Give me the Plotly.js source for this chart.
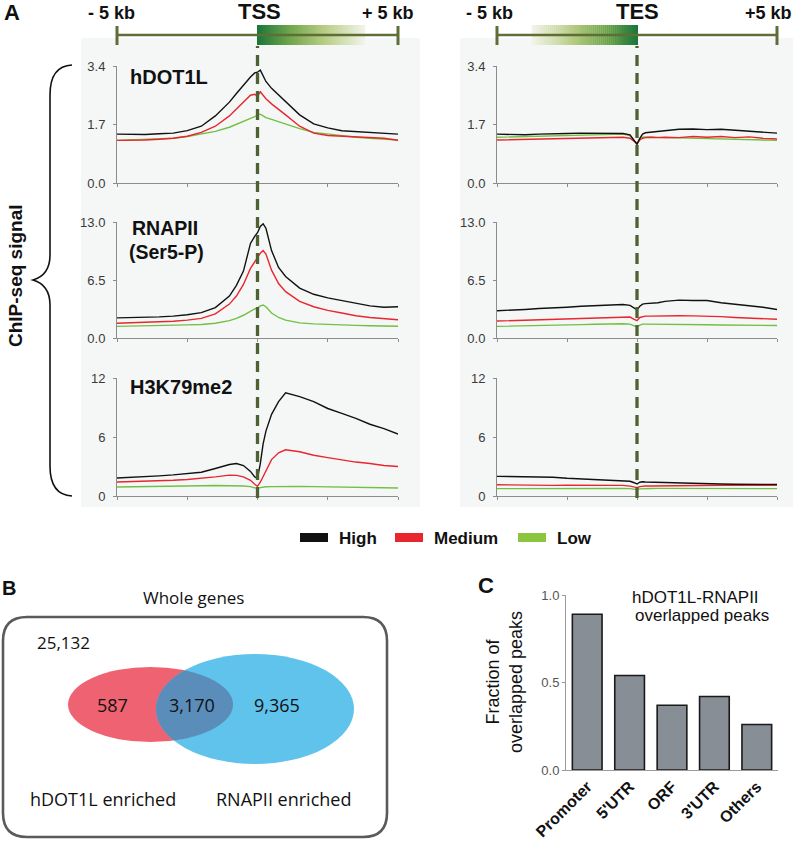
<!DOCTYPE html>
<html>
<head>
<meta charset="utf-8">
<script src="https://cdn.plot.ly/plotly-3.0.1.min.js"></script>
<style>
body { margin: 0; background: #fff; }
#chart { width: 805px; height: 845px; }
</style>
</head>
<body>
<div id="chart"></div>
<script>
// distance from TSS / TES in kb
var pos = [-5,-4.5,-4,-3.5,-3,-2.5,-2,-1.5,-1,-0.75,-0.5,-0.25,-0.1,0,0.1,0.2,0.3,0.5,0.75,1,1.5,2,2.5,3,3.5,4,4.5,5];

var seriesNames = ['High', 'Medium', 'Low'];
var seriesColors = ['#111111', '#e8262d', '#72c043'];

// hDOT1L
var dot1lTssHigh = [1.42,1.41,1.41,1.43,1.45,1.52,1.65,1.95,2.35,2.6,2.85,3.08,3.2,3.22,3.28,3.1,2.95,2.75,2.55,2.38,1.98,1.72,1.6,1.52,1.5,1.47,1.45,1.42];
var dot1lTssMed  = [1.24,1.24,1.25,1.27,1.3,1.36,1.47,1.65,1.95,2.15,2.35,2.55,2.58,2.52,2.65,2.55,2.45,2.3,2.15,1.98,1.65,1.45,1.38,1.36,1.34,1.32,1.3,1.24];
var dot1lTssLow  = [1.24,1.25,1.27,1.28,1.3,1.35,1.42,1.5,1.62,1.7,1.78,1.88,1.93,1.97,2.0,1.95,1.9,1.85,1.78,1.72,1.58,1.47,1.42,1.38,1.33,1.3,1.28,1.25];
var dot1lTesHigh = [1.42,1.4,1.4,1.42,1.44,1.44,1.45,1.45,1.46,1.45,1.44,1.4,1.25,1.13,1.3,1.42,1.46,1.48,1.5,1.52,1.56,1.57,1.55,1.56,1.53,1.5,1.48,1.45];
var dot1lTesMed  = [1.25,1.26,1.27,1.28,1.3,1.3,1.31,1.32,1.33,1.33,1.33,1.3,1.2,1.15,1.25,1.3,1.32,1.33,1.32,1.33,1.32,1.35,1.33,1.35,1.32,1.34,1.3,1.28];
var dot1lTesLow  = [1.33,1.34,1.35,1.36,1.37,1.38,1.4,1.41,1.42,1.42,1.42,1.38,1.22,1.12,1.28,1.33,1.34,1.34,1.33,1.32,1.31,1.3,1.3,1.28,1.28,1.27,1.26,1.24];

// RNAPII (Ser5-P)
var polTssHigh = [2.25,2.27,2.3,2.37,2.45,2.6,2.85,3.4,4.7,5.9,7.5,10.6,11.4,11.8,12.5,12.8,12.3,9.8,7.9,6.9,5.6,4.9,4.5,4.2,3.9,3.6,3.45,3.5];
var polTssMed  = [1.65,1.7,1.75,1.8,1.88,2.0,2.2,2.7,3.8,4.7,6.0,7.8,8.5,8.9,9.5,9.8,9.4,7.6,6.1,5.2,4.1,3.5,3.1,2.8,2.5,2.3,2.15,2.05];
var polTssLow  = [1.3,1.32,1.35,1.38,1.42,1.47,1.52,1.65,1.95,2.2,2.55,3.0,3.25,3.35,3.6,3.7,3.5,2.8,2.3,2.0,1.7,1.58,1.5,1.45,1.42,1.38,1.35,1.32];
var polTesHigh = [3.05,3.1,3.2,3.3,3.35,3.45,3.55,3.6,3.7,3.72,3.75,3.65,3.35,3.15,3.55,3.8,3.85,3.9,3.95,4.1,4.25,4.2,4.2,3.95,3.8,3.6,3.45,3.2];
var polTesMed  = [1.9,1.95,2.0,2.05,2.1,2.15,2.2,2.25,2.3,2.35,2.38,2.35,2.1,1.95,2.3,2.42,2.45,2.45,2.48,2.5,2.5,2.48,2.45,2.4,2.3,2.25,2.2,2.1];
var polTesLow  = [1.3,1.32,1.35,1.38,1.42,1.46,1.5,1.54,1.58,1.6,1.6,1.55,1.4,1.25,1.45,1.55,1.55,1.55,1.54,1.52,1.5,1.48,1.48,1.46,1.45,1.43,1.42,1.4];

// H3K79me2
var k79TssHigh = [1.83,1.88,1.95,2.05,2.15,2.3,2.42,2.8,3.2,3.3,3.1,2.5,1.95,1.8,3.3,5.3,6.6,8.3,9.6,10.5,10.1,9.6,8.9,8.4,7.9,7.3,6.85,6.3];
var k79TssMed  = [1.42,1.45,1.5,1.55,1.6,1.68,1.78,1.95,2.12,2.1,1.95,1.6,1.2,0.98,1.4,2.0,2.6,3.7,4.4,4.7,4.5,4.15,3.9,3.65,3.45,3.3,3.1,3.0];
var k79TssLow  = [0.92,0.93,0.95,0.97,1.0,1.02,1.05,1.07,1.08,1.06,1.02,0.95,0.82,0.75,0.85,0.92,0.94,0.95,0.97,0.98,0.97,0.95,0.93,0.9,0.88,0.86,0.84,0.82];
var k79TesHigh = [2.0,1.98,1.97,1.95,1.9,1.8,1.75,1.7,1.62,1.6,1.55,1.5,1.35,1.22,1.4,1.45,1.42,1.4,1.38,1.35,1.3,1.28,1.25,1.22,1.2,1.2,1.18,1.18];
var k79TesMed  = [1.15,1.12,1.1,1.08,1.08,1.1,1.1,1.12,1.12,1.1,1.08,1.0,0.9,0.85,0.95,1.0,1.02,1.02,1.03,1.05,1.05,1.08,1.1,1.1,1.12,1.12,1.1,1.08];
var k79TesLow  = [0.75,0.76,0.77,0.78,0.8,0.8,0.82,0.82,0.82,0.8,0.78,0.75,0.7,0.65,0.72,0.75,0.76,0.77,0.78,0.78,0.78,0.78,0.77,0.77,0.76,0.76,0.75,0.75];

// panel B
var vennSetNames = ['hDOT1L enriched', 'RNAPII enriched'];
var vennCounts = ['587', '3,170', '9,365'];
var wholeGenes = '25,132';

// panel C
var regions = ['Promoter', "5'UTR", 'ORF', "3'UTR", 'Others'];
var overlapFraction = [0.89, 0.54, 0.37, 0.42, 0.26];

var W = 805, H = 845;
var FONT = 'Liberation Sans, Arial, sans-serif';
var VFONT = 'Open Sans, sans-serif';
function px(x) { return x / W; }
function py(y) { return 1 - y / H; }

var rows = [
  { top: 66,  bottom: 183, yMax: 3.4, ticks: [0, 1.7, 3.4], text: ['0.0', '1.7', '3.4'],
    tss: [dot1lTssHigh, dot1lTssMed, dot1lTssLow], tes: [dot1lTesHigh, dot1lTesMed, dot1lTesLow] },
  { top: 222, bottom: 338, yMax: 13, ticks: [0, 6.5, 13], text: ['0.0', '6.5', '13.0'],
    tss: [polTssHigh, polTssMed, polTssLow], tes: [polTesHigh, polTesMed, polTesLow] },
  { top: 378, bottom: 496, yMax: 12, ticks: [0, 6, 12], text: ['0', '6', '12'],
    tss: [k79TssHigh, k79TssMed, k79TssLow], tes: [k79TesHigh, k79TesMed, k79TesLow] }
];
var cols = [{ left: 117, right: 398, key: 'tss' }, { left: 497, right: 777, key: 'tes' }];

var data = [];
var layout = {
  width: W, height: H,
  margin: { l: 0, r: 0, t: 0, b: 0 },
  paper_bgcolor: '#ffffff',
  plot_bgcolor: 'rgba(0,0,0,0)',
  showlegend: false,
  shapes: [],
  annotations: []
};

var n = 1;
rows.forEach(function (row) {
  cols.forEach(function (col) {
    var sx = n === 1 ? '' : String(n);
    var series = row[col.key];
    for (var s = series.length - 1; s >= 0; s--) {
      data.push({
        x: pos, y: series[s], type: 'scatter', mode: 'lines',
        name: seriesNames[s], line: { color: seriesColors[s], width: 1.4 },
        xaxis: 'x' + sx, yaxis: 'y' + sx, hoverinfo: 'skip'
      });
    }
    layout['xaxis' + sx] = {
      domain: [px(col.left), px(col.right)], anchor: 'y' + sx, range: [-5, 5],
      showline: true, linecolor: '#8c8c8c', linewidth: 1,
      ticks: 'outside', ticklen: 3, tickcolor: '#8c8c8c',
      tickvals: [-5, -2.5, 0, 2.5, 5], showticklabels: false,
      showgrid: false, zeroline: false, fixedrange: true
    };
    layout['yaxis' + sx] = {
      domain: [py(row.bottom), py(row.top)], anchor: 'x' + sx, range: [0, row.yMax],
      showline: true, linecolor: '#8c8c8c', linewidth: 1,
      ticks: 'outside', ticklen: 3, tickcolor: '#8c8c8c',
      tickvals: row.ticks, ticktext: row.text, ticklabelstandoff: 5,
      tickfont: { family: FONT, size: 13, color: '#3a3a3a' },
      showgrid: false, zeroline: false, fixedrange: true
    };
    n++;
  });
});

// bar chart (panel C)
data.push({
  type: 'bar', x: regions, y: overlapFraction, xaxis: 'x7', yaxis: 'y7',
  width: 0.7, hoverinfo: 'skip',
  marker: { color: '#878e96', line: { color: '#1a1a1a', width: 1.6 } }
});
layout.xaxis7 = {
  domain: [px(566), px(778)], anchor: 'y7', range: [-0.5, 4.5],
  showline: true, linecolor: '#9a9a9a', ticks: '', tickangle: -45,
  tickfont: { family: FONT, size: 16, color: '#111', weight: 'bold' },
  showgrid: false, zeroline: false, fixedrange: true
};
layout.yaxis7 = {
  domain: [py(770), py(595)], anchor: 'x7', range: [0, 1],
  showline: true, linecolor: '#9a9a9a', ticks: 'outside', ticklen: 3, tickcolor: '#9a9a9a',
  tickvals: [0, 0.5, 1], ticktext: ['0.0', '0.5', '1.0'],
  tickfont: { family: FONT, size: 13, color: '#555' },
  showgrid: false, zeroline: false, fixedrange: true
};

var shapes = layout.shapes, ann = layout.annotations;

function rect(x0, y0, x1, y1, fill, extra) {
  var s = { type: 'rect', xref: 'paper', yref: 'paper', x0: px(x0), x1: px(x1), y0: py(y1), y1: py(y0),
            fillcolor: fill, line: { width: 0 }, layer: 'below' };
  for (var k in extra) s[k] = extra[k];
  return s;
}
function seg(x0, y0, x1, y1, color, width, dash) {
  return { type: 'line', xref: 'paper', yref: 'paper', x0: px(x0), y0: py(y0), x1: px(x1), y1: py(y1),
           line: { color: color, width: width, dash: dash || 'solid' } };
}
function pathStr(pts, close) {
  return pts.map(function (p, i) {
    return (i ? 'L' : 'M') + px(p[0]).toFixed(5) + ',' + py(p[1]).toFixed(5);
  }).join(' ') + (close ? ' Z' : '');
}
function text(x, y, t, size, opts) {
  opts = opts || {};
  ann.push({
    xref: 'paper', yref: 'paper', x: px(x), y: py(y), text: t, showarrow: false,
    xanchor: opts.xanchor || 'center', yanchor: 'middle', textangle: opts.angle || 0,
    font: { family: opts.family || FONT, size: size, color: opts.color || '#111', weight: opts.weight || 'normal' }
  });
}

// grey panel backgrounds
shapes.push(rect(81, 38, 420, 507, '#f5f7f7'));
shapes.push(rect(460, 38, 793, 507, '#f5f7f7'));

// gene body gradient bars
var grad = [[0, [25, 118, 58]], [0.3, [110, 165, 75]], [0.6, [180, 202, 128]], [1, [242, 244, 232]]];
function gradColor(t) {
  for (var i = 1; i < grad.length; i++) {
    if (t <= grad[i][0]) {
      var a = grad[i - 1], b = grad[i], f = (t - a[0]) / (b[0] - a[0]);
      return 'rgb(' + [0, 1, 2].map(function (k) { return Math.round(a[1][k] + (b[1][k] - a[1][k]) * f); }).join(',') + ')';
    }
  }
  return 'rgb(242,244,232)';
}
var steps = 54;
for (var i = 0; i < steps; i++) {
  var t = (i + 0.5) / steps;
  var w1 = (365 - 257) / steps, w2 = (638 - 532) / steps;
  shapes.push(rect(257 + i * w1, 25, 257 + (i + 1) * w1 + 0.3, 45, gradColor(t), { layer: 'above' }));
  shapes.push(rect(638 - (i + 1) * w2 - 0.3, 25, 638 - i * w2, 45, gradColor(t), { layer: 'above' }));
}

// scale bars
var olive = '#5f6e37';
[[117, 398], [497, 777]].forEach(function (b) {
  shapes.push(seg(b[0], 35, b[1], 35, olive, 2.5));
  shapes.push(seg(b[0], 26, b[0], 45, olive, 3));
  shapes.push(seg(b[1], 26, b[1], 45, olive, 3));
});

// TSS / TES dashed lines
['x', 'x2'].forEach(function (xr) {
  shapes.push({ type: 'line', xref: xr, yref: 'paper', x0: 0, x1: 0, y0: py(498), y1: py(46),
                line: { color: '#4e6130', width: 3.3, dash: '11px,7px' }, layer: 'above' });
});

// curly brace
shapes.push({ type: 'path', xref: 'paper', yref: 'paper', line: { color: '#111', width: 1.6 },
  path: 'M' + px(72) + ',' + py(65) + ' Q' + px(50) + ',' + py(66) + ' ' + px(50) + ',' + py(95) +
        ' L' + px(50) + ',' + py(255) + ' Q' + px(50) + ',' + py(275) + ' ' + px(33) + ',' + py(280) +
        ' Q' + px(50) + ',' + py(285) + ' ' + px(50) + ',' + py(305) +
        ' L' + px(50) + ',' + py(466) + ' Q' + px(50) + ',' + py(495) + ' ' + px(72) + ',' + py(496) });

// legend
seriesNames.forEach(function (name, k) {
  var x0 = [300, 395, 518][k];
  shapes.push(rect(x0, 533, x0 + 28, 542, seriesColors[k] === '#72c043' ? '#8cc63f' : seriesColors[k], { layer: 'above' }));
  text(x0 + 37, 538, name, 17, { xanchor: 'left', weight: 'bold' });
});

// Venn (panel B)
shapes.push({ type: 'path', xref: 'paper', yref: 'paper', line: { color: '#5a5a5a', width: 2.6 },
  path: (function () {
    var x0 = 3, x1 = 387, y0 = 617, y1 = 837, r = 24;
    return 'M' + px(x0 + r) + ',' + py(y0) + ' L' + px(x1 - r) + ',' + py(y0) +
      ' Q' + px(x1) + ',' + py(y0) + ' ' + px(x1) + ',' + py(y0 + r) +
      ' L' + px(x1) + ',' + py(y1 - r) + ' Q' + px(x1) + ',' + py(y1) + ' ' + px(x1 - r) + ',' + py(y1) +
      ' L' + px(x0 + r) + ',' + py(y1) + ' Q' + px(x0) + ',' + py(y1) + ' ' + px(x0) + ',' + py(y1 - r) +
      ' L' + px(x0) + ',' + py(y0 + r) + ' Q' + px(x0) + ',' + py(y0) + ' ' + px(x0 + r) + ',' + py(y0) + ' Z';
  })() });
var red = { cx: 150.5, cy: 704.5, rx: 82.5, ry: 37.5 };
var blue = { cx: 255, cy: 709, rx: 99, ry: 55 };
function ellShape(e, color) {
  return { type: 'circle', xref: 'paper', yref: 'paper', x0: px(e.cx - e.rx), x1: px(e.cx + e.rx),
           y0: py(e.cy + e.ry), y1: py(e.cy - e.ry), fillcolor: color, line: { width: 0 } };
}
function inside(e, p) {
  var dx = (p[0] - e.cx) / e.rx, dy = (p[1] - e.cy) / e.ry;
  return dx * dx + dy * dy <= 1;
}
function arc(e, t0, t1, other) {
  var pts = [];
  for (var k = 0; k <= 400; k++) {
    var t = t0 + (t1 - t0) * k / 400;
    var p = [e.cx + e.rx * Math.cos(t), e.cy - e.ry * Math.sin(t)];
    if (inside(other, p)) pts.push(p);
  }
  return pts;
}
shapes.push(ellShape(red, '#ef6271'));
shapes.push(ellShape(blue, '#60c3ec'));
var lens = arc(red, -Math.PI, Math.PI, blue).concat(arc(blue, 0, 2 * Math.PI, red));
shapes.push({ type: 'path', xref: 'paper', yref: 'paper', path: pathStr(lens, true),
              fillcolor: '#5b8dba', line: { width: 0 } });

text(193, 597, 'Whole genes', 17, { family: VFONT });
text(63, 642, wholeGenes, 17, { family: VFONT });
text(112, 705, vennCounts[0], 18, { family: VFONT });
text(192, 705, vennCounts[1], 18, { family: VFONT });
text(277, 705, vennCounts[2], 18, { family: VFONT });
text(103, 799, vennSetNames[0], 18, { family: VFONT });
text(283, 799, vennSetNames[1], 18, { family: VFONT });

// panel A texts
text(12, 13, 'A', 22, { weight: 'bold' });
text(111, 13, '- 5 kb', 18, { weight: 'bold' });
text(259, 11, 'TSS', 22, { weight: 'bold' });
text(388, 13, '+ 5 kb', 18, { weight: 'bold' });
text(489, 13, '- 5 kb', 18, { weight: 'bold' });
text(637, 11, 'TES', 22, { weight: 'bold' });
text(768, 13, '+5 kb', 18, { weight: 'bold' });
text(169, 77, 'hDOT1L', 20, { weight: 'bold' });
text(165, 228, 'RNAPII', 19.5, { weight: 'bold' });
text(166, 252, '(Ser5-P)', 19.5, { weight: 'bold' });
text(181, 387, 'H3K79me2', 20, { weight: 'bold' });
text(15, 276, 'ChIP-seq signal', 19, { weight: 'bold', angle: -90 });

// panels B, C texts
text(9, 588, 'B', 20, { weight: 'bold' });
text(486, 585, 'C', 22, { weight: 'bold' });
text(695, 597, 'hDOT1L-RNAPII', 17);
text(702, 615, 'overlapped peaks', 17);
text(504, 682, 'Fraction of<br>overlapped peaks', 18, { angle: -90 });

Plotly.newPlot('chart', data, layout, { staticPlot: true });
</script>
</body>
</html>
